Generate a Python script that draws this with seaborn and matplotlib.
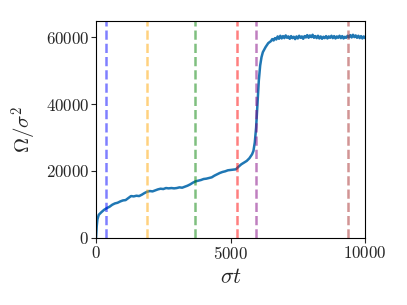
import matplotlib
matplotlib.use("Agg")
import matplotlib.pyplot as plt
import seaborn as sns
import pandas as pd

# time (sigma t) and Omega/sigma^2
t_early = [0, 25, 50, 100, 200, 300, 400, 500, 600, 700, 800, 900, 1000,
           1100, 1200, 1300, 1400, 1500, 1600, 1700, 1800, 1900, 2000,
           2100, 2200, 2300, 2400, 2500, 2600, 2700, 2800, 2900, 3000,
           3100, 3200, 3300, 3400, 3500, 3600, 3700, 3800, 3900, 4000,
           4100, 4200, 4300, 4400, 4500, 4600, 4700, 4800, 4900, 5000,
           5100, 5200, 5300, 5400, 5500, 5600, 5700, 5800, 5850, 5900,
           5950, 6000, 6050, 6100, 6150, 6200, 6300, 6400]
v_early = [0, 3500, 5500, 6900, 7700, 8400, 8900, 9300, 9900, 10300, 10500,
           10900, 11200, 11300, 11900, 12500, 12400, 12600, 12500, 12900,
           13400, 13800, 14000, 13900, 14200, 14500, 14700, 14600, 14900,
           14800, 14900, 14800, 14900, 15100, 15000, 15300, 15600, 16000,
           16500, 16900, 17100, 17300, 17600, 17700, 17900, 18100, 18600,
           19000, 19400, 19700, 19900, 20200, 20300, 20400, 20500, 21300,
           22000, 22500, 23000, 23800, 25000, 26000, 28500, 33000, 40000,
           47000, 51500, 54000, 55500, 57000, 58200]
t_late = [6500 + 50 * i for i in range(71)]
v_late = [58800, 59400, 59000, 59700, 59300, 60200, 59500, 60400, 59600,
          60300, 59700, 60500, 59800, 60200, 59500, 60300, 59700, 60100,
          59400, 60200, 59600, 60400, 59800, 60200, 59500, 60300, 59900,
          60600, 59800, 60500, 60000, 60700, 59800, 60300, 59700, 60400,
          59600, 60200, 59500, 60100, 59700, 60300, 59600, 60200, 59800,
          60400, 59700, 60300, 59600, 60200, 59800, 60400, 59700, 60300,
          59600, 60100, 59800, 60400, 59900, 60600, 59900, 60700, 60000,
          60500, 59800, 60400, 59700, 60300, 59600, 60200, 59700]
t_vals = t_early + t_late
omega_vals = v_early + v_late

# marker times (vertical dashed lines)
vline_t = [370, 1910, 3690, 5235, 5930, 9350]
vline_colors = ["blue", "orange", "green", "red", "purple", "brown"]

sns.set_style("ticks")
plt.rcParams["font.family"] = ["cmr10", "DejaVu Serif"]
plt.rcParams["mathtext.fontset"] = "cm"
plt.rcParams["axes.formatter.use_mathtext"] = True

fig = plt.figure(figsize=(4.07, 3.05), dpi=100)
ax = fig.add_axes([0.236, 0.22, 0.661, 0.711])

df = pd.DataFrame({"t": t_vals, "omega": omega_vals})
sns.lineplot(data=df, x="t", y="omega", ax=ax, color="#1f77b4", lw=1.8,
             estimator=None, sort=False)

for xv, c in zip(vline_t, vline_colors):
    ax.axvline(xv, color=c, ls="--", lw=1.8, alpha=0.5)

ax.set_xlim(0, 10000)
ax.set_ylim(0, 64800)
ax.set_xticks([0, 5000, 10000])
ax.set_yticks([0, 20000, 40000, 60000])
ax.tick_params(labelsize=12.2, length=3.5, width=0.8, direction="out", pad=1.5)
ax.set_xlabel(r"$\sigma t$", fontsize=16, labelpad=4)
ax.set_ylabel(r"$\Omega/\sigma^2$", fontsize=15, labelpad=5)
for s in ax.spines.values():
    s.set_linewidth(0.8)
    s.set_color("black")

fig.savefig("out.png", dpi=100)
